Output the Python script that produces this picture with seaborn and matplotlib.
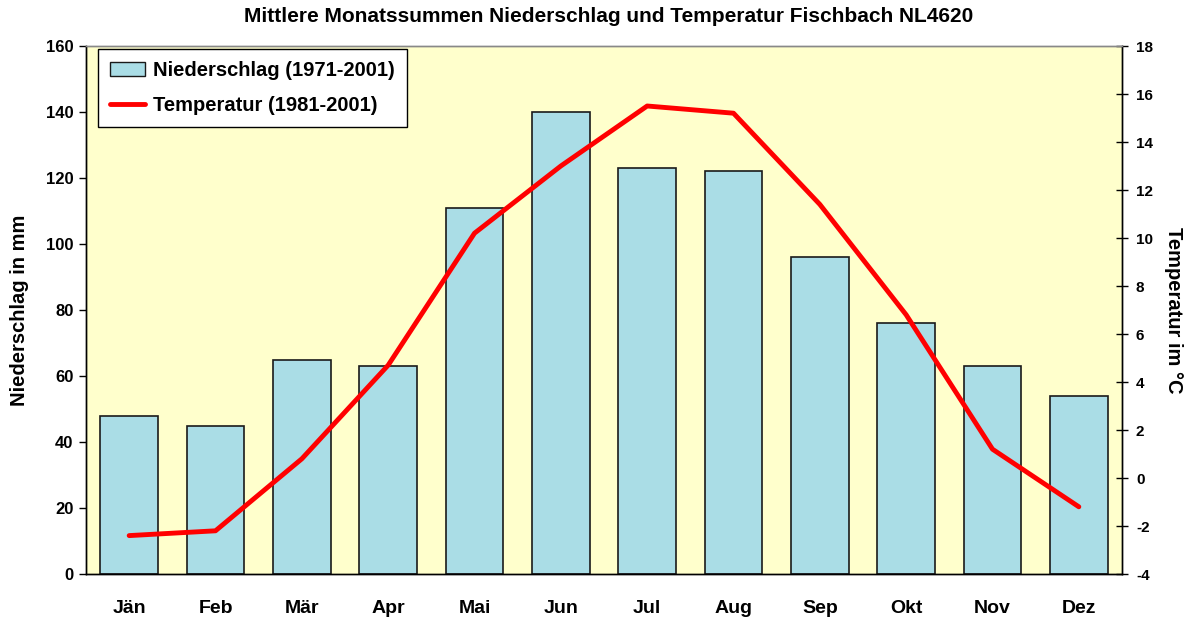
import numpy as np
import matplotlib
matplotlib.use("Agg")
import matplotlib.pyplot as plt
import seaborn as sns
from matplotlib.patches import Patch
from matplotlib.lines import Line2D

months = ["Jän", "Feb", "Mär", "Apr", "Mai", "Jun", "Jul", "Aug", "Sep", "Okt", "Nov", "Dez"]
niederschlag = [48, 45, 65, 63, 111, 140, 123, 122, 96, 76, 63, 54]
temperatur = [-2.4, -2.2, 0.8, 4.7, 10.2, 13.0, 15.5, 15.2, 11.4, 6.8, 1.2, -1.2]
left_ticks = [0, 20, 40, 60, 80, 100, 120, 140, 160]
right_ticks = [-4, -2, 0, 2, 4, 6, 8, 10, 12, 14, 16, 18]

sns.set_theme(style="white")
plt.rcParams['font.family'] = ['Liberation Sans', 'DejaVu Sans']
plt.rcParams['font.weight'] = 'bold'
plt.rcParams['text.color'] = 'black'
plt.rcParams['axes.labelcolor'] = 'black'
plt.rcParams['xtick.color'] = 'black'
plt.rcParams['ytick.color'] = 'black'

fig = plt.figure(figsize=(11.92, 6.23), dpi=100)
ax = fig.add_axes([86/1192, 1 - 574/623, (1122-86)/1192, (574-46)/623])
ax.set_facecolor("#ffffcc")

bar_color = "#aadde6"
sns.barplot(x=months, y=niederschlag, ax=ax, color=bar_color, width=0.67,
            edgecolor="#1a1a1a", linewidth=1.2, saturation=1)
ax.set_ylim(0, 160)
ax.set_xlim(-0.5, 11.5)
ax.set_yticks(left_ticks)
ax.set_yticklabels([str(t) for t in left_ticks], fontsize=12, fontweight='bold')
ax.set_xticks(range(12))
ax.set_xticklabels(months, fontsize=14, fontweight='bold')
ax.tick_params(axis='x', which='major', length=0, pad=19)
ax.set_xticks(np.arange(-0.5, 12, 1), minor=True)
ax.tick_params(axis='x', which='minor', length=5, direction='out', color='black', width=1)
ax.tick_params(axis='y', which='major', length=5, direction='out', color='black', width=1, left=True, pad=4)
ax.set_ylabel("Niederschlag in mm", fontsize=14.5, fontweight='bold', labelpad=12)
ax.set_xlabel("")

ax2 = ax.twinx()
sns.pointplot(x=months, y=temperatur, ax=ax2, color="#ff0000", marker="", linewidth=3.5, errorbar=None)
ax2.set_ylim(-4, 18)
ax2.set_xlim(-0.5, 11.5)
ax2.set_yticks(right_ticks)
ax2.set_yticklabels([str(t) for t in right_ticks], fontsize=11, fontweight='bold')
ax2.tick_params(axis='y', which='major', length=8, direction='inout', color='black', width=1, right=True, pad=6)
ax2.set_ylabel("Temperatur im °C", fontsize=14.5, fontweight='bold', rotation=270, labelpad=22)

for a in (ax, ax2):
    for s in ['left', 'bottom', 'right']:
        a.spines[s].set_color('black')
        a.spines[s].set_linewidth(1)
    a.spines['top'].set_color('#888888')
    a.spines['top'].set_linewidth(1)

handles = [Patch(facecolor=bar_color, edgecolor='#1a1a1a', linewidth=1),
           Line2D([0], [0], color='#ff0000', linewidth=3.5)]
leg = ax2.legend(handles, ["Niederschlag (1971-2001)", "Temperatur (1981-2001)"],
                 loc='upper left', bbox_to_anchor=(12/1036, 1 - 3/528), borderaxespad=0,
                 prop={'weight': 'bold', 'size': 14.5}, frameon=True, fancybox=False,
                 edgecolor='black', framealpha=1, handlelength=1.75, handletextpad=0.4,
                 borderpad=0.6, labelspacing=0.8)
leg.get_frame().set_linewidth(1)

fig.text(609/1192, 1 - 17/623, "Mittlere Monatssummen Niederschlag und Temperatur Fischbach NL4620",
         ha='center', va='center', fontsize=15, fontweight='bold')

fig.savefig("out.png", dpi=100, facecolor='white')
